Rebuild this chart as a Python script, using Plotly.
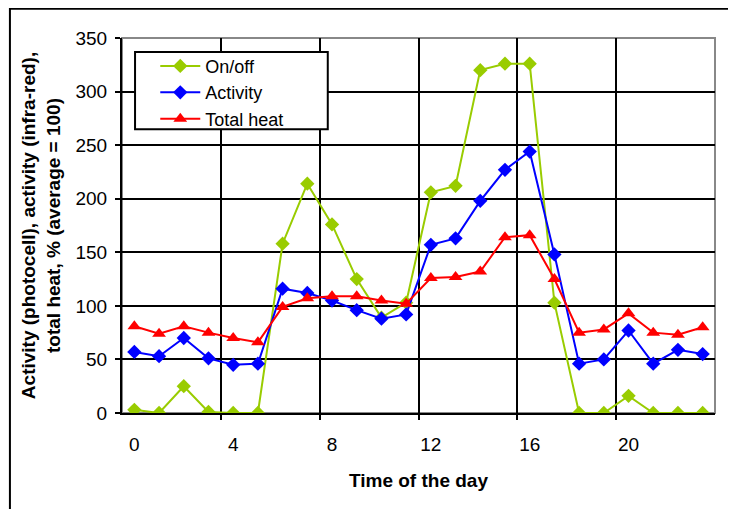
import plotly.graph_objects as go

hours = list(range(24))
x_labels = [0, 4, 8, 12, 16, 20]
y_ticks = [0, 50, 100, 150, 200, 250, 300, 350]

on_off = [3, 0, 25, 1, 0, 0, 158, 214, 176, 125, 89, 103,
          206, 212, 320, 326, 326, 103, 0, 0, 16, 0, 0, 0]
activity = [57, 53, 70, 51, 45, 46, 116, 112, 105, 96, 88, 92,
            157, 163, 198, 227, 244, 148, 46, 50, 77, 46, 59, 55]
total_heat = [81, 74, 81, 75, 70, 66, 99, 107, 109, 109, 105, 102,
              126, 127, 132, 164, 166, 125, 75, 78, 93, 75, 73, 80]

font = "Liberation Sans, Arial, sans-serif"

fig = go.Figure()
fig.add_trace(go.Scatter(x=hours, y=on_off, name="On/off", mode="lines+markers",
                         line=dict(color="#99CC00", width=2),
                         marker=dict(symbol="diamond", size=11, color="#99CC00")))
fig.add_trace(go.Scatter(x=hours, y=activity, name="Activity", mode="lines+markers",
                         line=dict(color="#0000FF", width=2),
                         marker=dict(symbol="diamond", size=11, color="#0000FF")))
fig.add_trace(go.Scatter(x=hours, y=total_heat, name="Total heat", mode="lines+markers",
                         line=dict(color="#FF0000", width=2),
                         marker=dict(symbol="triangle-up", size=12, color="#FF0000")))

# category boundaries between every 4th hour (Excel-style category axis)
bounds = [h - 0.5 for h in range(4, 24, 4)]

# note: page body adds an 8px offset, margins are compensated for it
fig.update_layout(
    width=736, height=509,
    margin=dict(l=114, r=29, t=30, b=104),
    paper_bgcolor="white", plot_bgcolor="white",
    font=dict(family=font, size=19, color="black"),
    showlegend=True,
    legend=dict(x=0.019, y=0.974, xanchor="left", yanchor="top",
                borderwidth=0, bgcolor="rgba(0,0,0,0)",
                font=dict(size=18), itemwidth=40, indentation=22, tracegroupgap=0),
    xaxis=dict(range=[-0.5, 23.5], tickvals=x_labels, ticks="", showgrid=False,
               zeroline=False, showline=True, linecolor="black", linewidth=2,
               ticklabelstandoff=13, tickfont=dict(size=19),
               title=dict(text="<b>Time of the day</b>", font=dict(size=19), standoff=20),
               minor=dict(tickvals=bounds, showgrid=True, gridcolor="black", gridwidth=2,
                          ticks="outside", ticklen=5, tickcolor="black", tickwidth=2)),
    yaxis=dict(range=[0, 350], tickvals=y_ticks, ticks="outside", ticklen=5,
               tickwidth=2, tickcolor="black", showgrid=True, gridcolor="black",
               gridwidth=2, zeroline=False, showline=True, linecolor="black",
               linewidth=2, tickfont=dict(size=19), ticklabelstandoff=4,
               title=dict(text="<b>Activity (photocell), activity (infra-red),<br>total heat, % (average = 100)</b>",
                          font=dict(size=19), standoff=10)),
    shapes=[
        dict(type="rect", xref="paper", yref="paper", x0=0, x1=1, y0=0, y1=1,
             line=dict(color="#888888", width=2), layer="between"),
        dict(type="rect", xref="paper", yref="paper", x0=-0.189, x1=1.1, y0=-0.4, y1=1.078,
             line=dict(color="black", width=2), layer="below"),
        # legend frame
        dict(type="rect", xref="paper", yref="paper", x0=0.022, x1=0.347, y0=0.757, y1=0.963,
             line=dict(color="black", width=2), fillcolor="white", layer="above"),
    ],
)

fig.write_html("out.html")
